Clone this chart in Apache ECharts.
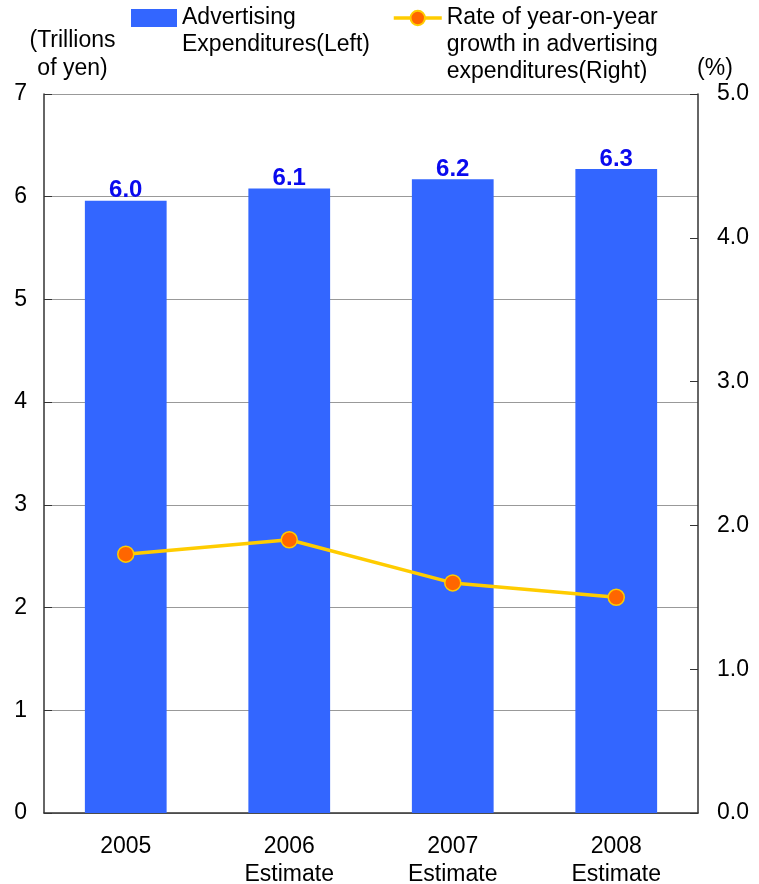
<!DOCTYPE html>
<html>
<head>
<meta charset="utf-8">
<script src="https://cdn.jsdelivr.net/npm/echarts@6/dist/echarts.min.js"></script>
<style>
html,body{margin:0;padding:0;background:#fff;}
#chart{width:759px;height:884px;}
</style>
</head>
<body>
<div id="chart"></div>
<script>
var categories = ['2005', '2006\nEstimate', '2007\nEstimate', '2008\nEstimate'];
var adExpenditures = [5.96, 6.08, 6.17, 6.27];
var growthRate = [1.80, 1.90, 1.60, 1.50];
var leftTicks = { min: 0, max: 7, interval: 1 };
var rightTicks = { min: 0, max: 5, interval: 1 };
var barName = 'Advertising\nExpenditures(Left)';
var lineName = 'Rate of year-on-year\ngrowth in advertising\nexpenditures(Right)';

var FONT = '"Liberation Sans", Arial, sans-serif';
var FS = 23;
var LH = 27;
var chart = echarts.init(document.getElementById('chart'), null, { renderer: 'canvas' });

function padTop(name) {
  var n = name.split('\n').length;
  var pre = '';
  for (var i = 0; i < n - 1; i++) pre += '\n';
  return pre + name;
}
function legendTop(name) {
  var n = name.split('\n').length;
  return 18 - (2 * n - 1) * LH / 2;
}

chart.setOption({
  animation: false,
  backgroundColor: '#ffffff',
  textStyle: { fontFamily: FONT },
  legend: [
    {
      data: [{ name: barName, icon: 'rect' }],
      left: 131,
      top: legendTop(barName),
      padding: 0,
      itemWidth: 46,
      itemHeight: 18,
      selectedMode: false,
      formatter: padTop,
      textStyle: { fontSize: FS, color: '#000', lineHeight: LH, fontFamily: FONT }
    },
    {
      data: [lineName],
      left: 392,
      top: legendTop(lineName),
      padding: 0,
      itemWidth: 48,
      itemHeight: 18,
      selectedMode: false,
      formatter: padTop,
      lineStyle: { width: 3.5, color: '#ffcc00' },
      textStyle: { fontSize: FS, color: '#000', lineHeight: LH, fontFamily: FONT }
    }
  ],
  grid: { left: 44, right: 61, top: 94, bottom: 71, containLabel: false, outerBoundsMode: 'none' },
  xAxis: {
    type: 'category',
    data: categories,
    axisLine: { show: true, lineStyle: { color: '#333', width: 1.5 } },
    axisTick: { show: false },
    axisLabel: { fontSize: FS, color: '#000', lineHeight: 28, margin: 20, fontFamily: FONT, interval: 0 }
  },
  yAxis: [
    {
      type: 'value',
      min: leftTicks.min, max: leftTicks.max, interval: leftTicks.interval,
      name: '(Trillions\nof yen)',
      nameLocation: 'end',
      nameGap: 8,
      nameTextStyle: { fontSize: FS, color: '#000', lineHeight: 28, align: 'center', verticalAlign: 'bottom', padding: [0, 0, 0, 57], fontFamily: FONT },
      axisLine: { show: true, lineStyle: { color: '#333', width: 1.5 } },
      axisTick: { show: true, inside: true, length: 8, lineStyle: { color: '#333' } },
      axisLabel: { fontSize: FS, color: '#000', margin: 17, fontFamily: FONT },
      splitLine: { show: true, lineStyle: { color: '#999', width: 1.2 } }
    },
    {
      type: 'value',
      min: rightTicks.min, max: rightTicks.max, interval: rightTicks.interval,
      position: 'right',
      name: '(%)',
      nameLocation: 'end',
      nameGap: 8,
      nameTextStyle: { fontSize: FS, color: '#000', lineHeight: 28, align: 'center', verticalAlign: 'bottom', padding: [0, 0, 0, 34], fontFamily: FONT },
      axisLine: { show: true, lineStyle: { color: '#333', width: 1.5 } },
      axisTick: { show: true, inside: true, length: 8, lineStyle: { color: '#333' } },
      axisLabel: { fontSize: FS, color: '#000', margin: 19, fontFamily: FONT, formatter: function (v) { return v.toFixed(1); } },
      splitLine: { show: false }
    }
  ],
  series: [
    {
      name: barName,
      type: 'bar',
      yAxisIndex: 0,
      data: adExpenditures,
      barWidth: '50%',
      itemStyle: { color: '#3366ff' },
      label: {
        show: true,
        position: 'top',
        distance: -2,
        color: '#0a0aee',
        fontWeight: 'bold',
        fontSize: 24,
        fontFamily: FONT,
        formatter: function (p) { return p.value.toFixed(1); }
      }
    },
    {
      name: lineName,
      type: 'line',
      yAxisIndex: 1,
      data: growthRate,
      symbol: 'circle',
      symbolSize: 16,
      lineStyle: { color: '#ffcc00', width: 3.5 },
      itemStyle: { color: '#ff6600', borderColor: '#ffcc00', borderWidth: 1.5 },
      z: 5
    }
  ]
});
</script>
</body>
</html>
